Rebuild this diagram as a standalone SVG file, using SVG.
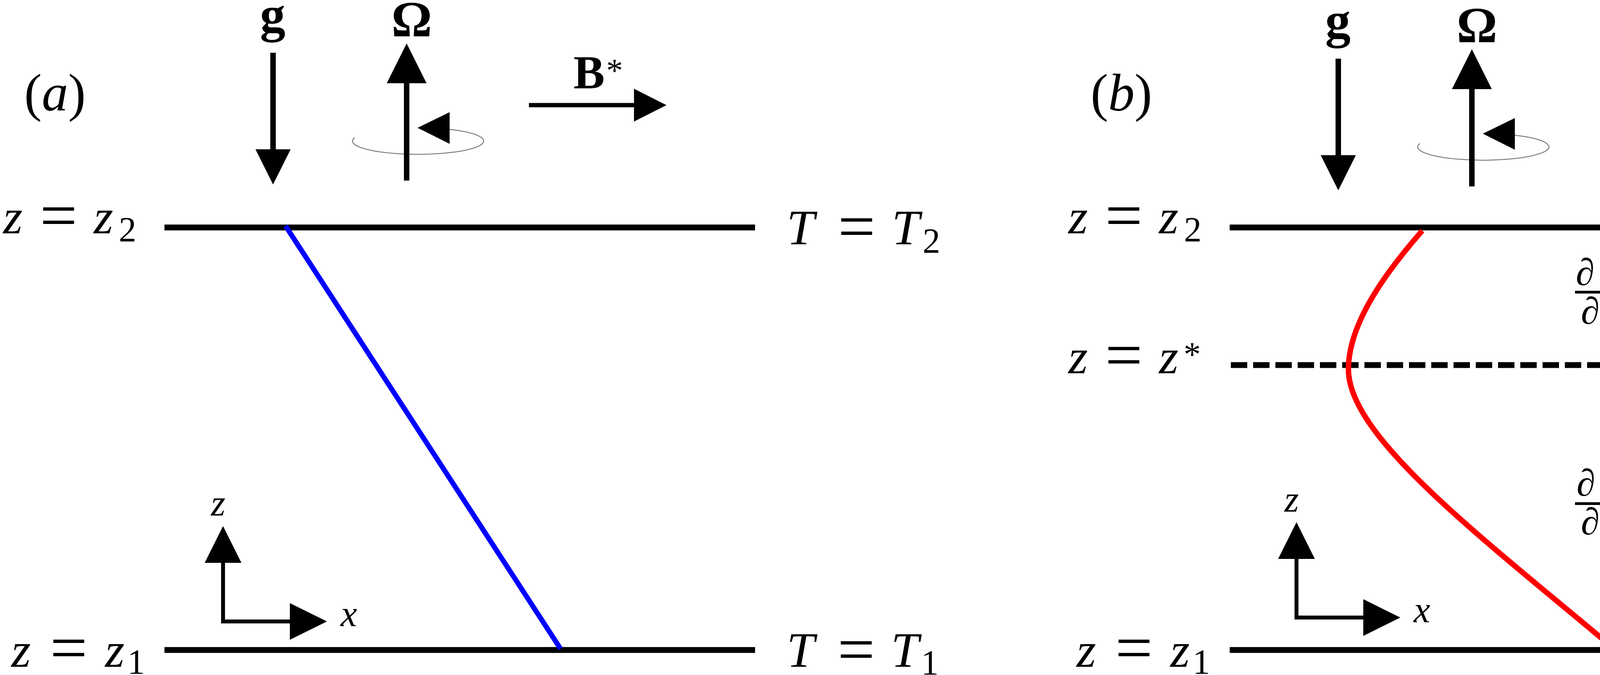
<svg xmlns="http://www.w3.org/2000/svg" width="5160" height="1727" viewBox="0 0 5160 1727">
<style>
text { font-family: "Liberation Serif", "Times New Roman", serif; fill: #000; }
.it { font-style: italic; }
.lbl { font-size: 128px; }
.sub { font-size: 90px; font-style: normal; }
.eq { font-size: 170px; font-style: normal; }
.frac { font-size: 97px; font-style: italic; }
.ax { font-size: 95px; font-style: italic; }
.big { font-size: 130px; font-weight: bold; }
.bv { font-size: 120px; font-weight: bold; }
.star { font-size: 85px; }
.wall { stroke: #000; stroke-width: 15; fill: none; }
.arr { stroke: #000; stroke-width: 14; fill: none; }
.arrB { stroke: #000; stroke-width: 11; fill: none; }
.axl { stroke: #000; stroke-width: 10; fill: none; }
.head { fill: #000; }
.rot { stroke: #808080; stroke-width: 2.5; fill: none; }
.bar { fill: #000; }
</style>
<rect x="0" y="0" width="5160" height="1727" fill="#fff"/>

<!-- ================= Panel (a) ================= -->
<g id="panel-a-label"><text class="lbl" x="62" y="283" style="font-size:135px">(<tspan class="it">a</tspan>)</text></g>

<g id="a-gravity">
  <line class="arr" x1="699" y1="135" x2="699" y2="390"/>
  <polygon class="head" points="654,382 744,382 699,472"/>
  <text class="big" x="698" y="80" text-anchor="middle">g</text>
</g>
<g id="a-rotation">
  <path class="rot" d="M1151,331 A168,34 0 1,1 908,352"/>
  <line class="arr" x1="1041" y1="462" x2="1041" y2="205"/>
  <polygon class="head" points="990,213 1092,213 1041,111"/>
  <polygon class="head" points="1069,327 1151,287 1151,368"/>
  <text class="big" x="1054" y="93" text-anchor="middle">Ω</text>
</g>
<g id="a-field">
  <line class="arrB" x1="1354" y1="269" x2="1628" y2="269"/>
  <polygon class="head" points="1623,227 1623,311 1706,269"/>
  <text class="bv" x="1468" y="226">B</text>
  <text class="star" x="1552" y="209">*</text>
</g>

<g id="a-top-wall">
  <line class="wall" x1="421" y1="582" x2="1933" y2="582"/>
  <text class="lbl it" y="597"><tspan x="8">z</tspan><tspan class="eq" x="102" y="608">=</tspan><tspan x="240" y="597">z</tspan><tspan class="sub" x="304" y="618">2</tspan></text>
  <text class="lbl it" y="625"><tspan x="2014">T</tspan><tspan class="eq" x="2145" y="636">=</tspan><tspan x="2283" y="625">T</tspan><tspan class="sub" x="2362" y="647">2</tspan></text>
</g>
<g id="a-bottom-wall">
  <line class="wall" x1="421" y1="1663" x2="1933" y2="1663"/>
  <text class="lbl it" y="1706"><tspan x="29">z</tspan><tspan class="eq" x="128" y="1714">=</tspan><tspan x="269" y="1706">z</tspan><tspan class="sub" x="326" y="1724">1</tspan></text>
  <text class="lbl it" y="1706"><tspan x="2014">T</tspan><tspan class="eq" x="2144" y="1718">=</tspan><tspan x="2281" y="1706">T</tspan><tspan class="sub" x="2358" y="1726">1</tspan></text>
</g>

<g id="a-axes">
  <line class="axl" x1="571" y1="1595" x2="571" y2="1435"/>
  <polygon class="head" points="524,1440 618,1440 571,1346"/>
  <line class="axl" x1="566" y1="1590" x2="747" y2="1590"/>
  <polygon class="head" points="742,1543 742,1637 837,1590"/>
  <text class="ax" x="540" y="1319">z</text>
  <text class="ax" x="872" y="1602">x</text>
</g>

<!-- ================= Panel (b) ================= -->
<g id="panel-b-label"><text class="lbl" x="2792" y="283" style="font-size:135px">(<tspan class="it">b</tspan>)</text></g>

<g id="b-gravity">
  <line class="arr" x1="3426" y1="150" x2="3426" y2="405"/>
  <polygon class="head" points="3381,397 3471,397 3426,487"/>
  <text class="big" x="3425" y="95" text-anchor="middle">g</text>
</g>
<g id="b-rotation">
  <path class="rot" d="M3878,346 A168,34 0 1,1 3635,367"/>
  <line class="arr" x1="3768" y1="477" x2="3768" y2="220"/>
  <polygon class="head" points="3717,228 3819,228 3768,126"/>
  <polygon class="head" points="3796,342 3878,302 3878,383"/>
  <text class="big" x="3781" y="108" text-anchor="middle">Ω</text>
</g>
<g id="b-field">
  <line class="arrB" x1="4134" y1="263" x2="4408" y2="263"/>
  <polygon class="head" points="4403,221 4403,305 4485,263"/>
  <text class="bv" x="4246" y="220">B</text>
  <text class="star" x="4336" y="202">*</text>
</g>

<g id="b-top-wall">
  <line class="wall" x1="3148" y1="582" x2="4660" y2="582"/>
  <text class="lbl it" y="597"><tspan x="2735">z</tspan><tspan class="eq" x="2829" y="608">=</tspan><tspan x="2967" y="597">z</tspan><tspan class="sub" x="3031" y="618">2</tspan></text>
  <text class="lbl it" y="625"><tspan x="4714">T</tspan><tspan class="eq" x="4845" y="636">=</tspan><tspan x="4982" y="625">T</tspan><tspan class="sub" x="5061" y="650">2</tspan></text>
</g>
<g id="b-middle-level">
  <line class="wall" x1="3151" y1="934" x2="4676" y2="934" stroke-dasharray="42 15"/>
  <text class="lbl it" y="955"><tspan x="2735">z</tspan><tspan class="eq" x="2829" y="965">=</tspan><tspan x="2967" y="955">z</tspan><tspan class="sub" x="3030" y="936" style="font-size:88px">*</tspan></text>
</g>
<g id="b-bottom-wall">
  <line class="wall" x1="3148" y1="1663" x2="4660" y2="1663"/>
  <text class="lbl it" y="1706"><tspan x="2756">z</tspan><tspan class="eq" x="2855" y="1714">=</tspan><tspan x="2996" y="1706">z</tspan><tspan class="sub" x="3053" y="1724">1</tspan></text>
  <text class="lbl it" y="1706"><tspan x="4714">T</tspan><tspan class="eq" x="4843" y="1718">=</tspan><tspan x="4980" y="1706">T</tspan><tspan class="sub" x="5057" y="1726">1</tspan></text>
</g>

<g id="b-grad-pos">
  <text class="frac" x="4034" y="729" textLength="130" lengthAdjust="spacing">∂T</text>
  <rect class="bar" x="4032" y="744" width="140" height="7"/>
  <text class="frac" x="4047" y="828" textLength="104" lengthAdjust="spacing">∂z</text>
  <text x="4227" y="788" style="font-size:160px">&gt;</text>
  <text x="4363" y="784" style="font-size:135px">0</text>
</g>
<g id="b-grad-zero">
  <text class="frac" x="4769" y="924" textLength="130" lengthAdjust="spacing">∂T</text>
  <rect class="bar" x="4767" y="938" width="138" height="7"/>
  <text class="frac" x="4778" y="1021" textLength="104" lengthAdjust="spacing">∂z</text>
  <text x="4962" y="984" style="font-size:170px">=</text>
  <text x="5101" y="977" style="font-size:135px">0</text>
</g>
<g id="b-grad-neg">
  <text class="frac" x="4036" y="1268" textLength="130" lengthAdjust="spacing">∂T</text>
  <rect class="bar" x="4032" y="1285" width="140" height="7"/>
  <text class="frac" x="4047" y="1367" textLength="104" lengthAdjust="spacing">∂z</text>
  <text x="4227" y="1328" style="font-size:160px">&lt;</text>
  <text x="4363" y="1324" style="font-size:135px">0</text>
</g>

<g id="b-axes">
  <line class="axl" x1="3319" y1="1585" x2="3319" y2="1425"/>
  <polygon class="head" points="3272,1430 3366,1430 3319,1336"/>
  <line class="axl" x1="3314" y1="1580" x2="3495" y2="1580"/>
  <polygon class="head" points="3490,1533 3490,1627 3585,1580"/>
  <text class="ax" x="3288" y="1309">z</text>
  <text class="ax" x="3619" y="1592">x</text>
</g>

<!-- ================= Profiles ================= -->
<g id="profiles">
  <line x1="731" y1="578" x2="1435" y2="1660" stroke="#0000ff" stroke-width="13"/>
  <path d="M3641,590 C3560,683 3452,820 3452,945 C3452,1120 3800,1380 4148,1673" fill="none" stroke="#ff0000" stroke-width="14"/>
</g>
</svg>
